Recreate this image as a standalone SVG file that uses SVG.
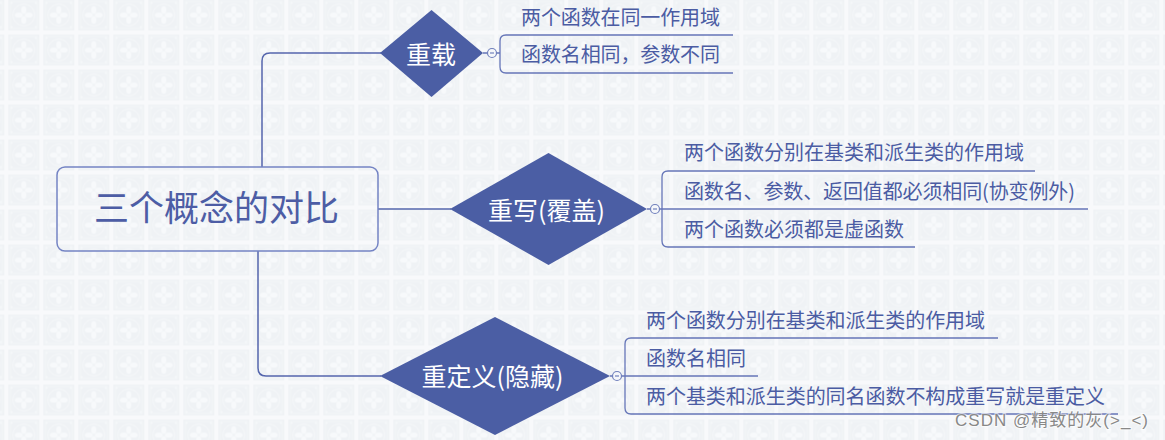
<svg xmlns="http://www.w3.org/2000/svg" width="1165" height="440" viewBox="0 0 1165 440">
  <defs>
    <pattern id="tile" x="8.3" y="-0.5" width="35" height="35" patternUnits="userSpaceOnUse">
      <rect x="0" y="0" width="35" height="35" fill="#f8f9fb"/>
      <rect x="0" y="0" width="31" height="31" fill="#eff2f5"/>
      <rect x="2" y="2" width="27" height="27" fill="none" stroke="#f5f7f9" stroke-width="0.8"/>
      <circle cx="15.5" cy="15.5" r="11" fill="none" stroke="#f6f8fa" stroke-width="1"/>
      <g fill="#f7f9fb">
        <ellipse cx="15.5" cy="10.5" rx="2.6" ry="4"/>
        <ellipse cx="15.5" cy="20.5" rx="2.6" ry="4"/>
        <ellipse cx="10.5" cy="15.5" rx="4" ry="2.6"/>
        <ellipse cx="20.5" cy="15.5" rx="4" ry="2.6"/>
        <circle cx="3.5" cy="3.5" r="1"/>
        <circle cx="27.5" cy="3.5" r="1"/>
        <circle cx="3.5" cy="27.5" r="1"/>
        <circle cx="27.5" cy="27.5" r="1"/>
      </g>
    </pattern>
    <style>
      .conn { fill: none; stroke: #5566ad; stroke-width: 1.5; }
      .br { fill: none; stroke: #6676b8; stroke-width: 1.3; }
      .dia { fill: #4b5ea4; }
      .dt { font-family: "Noto Sans CJK SC", "Noto Sans", sans-serif; font-size: 25px; fill: #ffffff; text-anchor: middle; }
      .ct { font-family: "Noto Sans CJK SC", "Noto Sans", sans-serif; font-size: 20px; fill: #4b5ca3; }
      .rt { font-family: "Noto Sans CJK SC", "Noto Sans", sans-serif; font-size: 35px; fill: #4d5da5; }
      .tog { fill: #f5f7fa; stroke: #7080bc; stroke-width: 1.2; }
      .togm { stroke: #7080bc; stroke-width: 1.2; }
    </style>
  </defs>
  <rect x="0" y="0" width="1165" height="440" fill="url(#tile)"/>

  <g id="connectors">
    <path class="conn" d="M 262 167 V 61 Q 262 53 270 53 H 381"/>
    <path class="conn" d="M 378 209 H 451"/>
    <path class="conn" d="M 258 251 V 368 Q 258 376 266 376 H 381"/>
    <path class="br" d="M 483 53 H 487.5 M 496.5 53 H 500"/>
    <path class="br" d="M 733 35 H 506 Q 500 35 500 41 V 67 Q 500 73 506 73 H 733"/>
    <path class="br" d="M 647 209 H 650.5 M 659.5 209 H 1088"/>
    <path class="br" d="M 1035 171 H 668 Q 662 171 662 177 V 241 Q 662 247 668 247 H 915"/>
    <path class="br" d="M 610 376 H 612.5 M 621.5 376 H 758"/>
    <path class="br" d="M 998 338 H 631 Q 625 338 625 344 V 408 Q 625 414 631 414 H 1118"/>
  </g>

  <g id="root">
    <rect x="57" y="167" width="321" height="84" rx="8" fill="none" stroke="#7484c4" stroke-width="1.5"/>
    <text class="rt" x="94" y="221" textLength="245" lengthAdjust="spacingAndGlyphs">三个概念的对比</text>
  </g>

  <g id="overload">
    <polygon class="dia" points="380,53 431.5,10 483,53 431.5,97"/>
    <text class="dt" x="431" y="64">重载</text>
    <circle class="tog" cx="492" cy="53" r="4.5"/>
    <line class="togm" x1="490" y1="53" x2="494" y2="53"/>
  </g>
  <g id="overload-items">
    <text class="ct" x="521" y="24.5" textLength="199">两个函数在同一作用域</text>
    <text class="ct" x="521" y="62" textLength="199">函数名相同，参数不同</text>
  </g>

  <g id="override">
    <polygon class="dia" points="450,209 548.5,153 647,209 548.5,265"/>
    <text class="dt" x="546.5" y="220">重写(覆盖)</text>
    <circle class="tog" cx="655" cy="209" r="4.5"/>
    <line class="togm" x1="653" y1="209" x2="657" y2="209"/>
  </g>
  <g id="override-items">
    <text class="ct" x="684" y="160" textLength="340">两个函数分别在基类和派生类的作用域</text>
    <text class="ct" x="684" y="198.5" textLength="391">函数名、参数、返回值都必须相同(协变例外)</text>
    <text class="ct" x="684" y="237" textLength="220">两个函数必须都是虚函数</text>
  </g>

  <g id="redefine">
    <polygon class="dia" points="380,376 495,317 610,376 495,435"/>
    <text class="dt" x="492.5" y="386">重定义(隐藏)</text>
    <circle class="tog" cx="617" cy="376" r="4.5"/>
    <line class="togm" x1="615" y1="376" x2="619" y2="376"/>
  </g>
  <g id="redefine-items">
    <text class="ct" x="646" y="327.5" textLength="339">两个函数分别在基类和派生类的作用域</text>
    <text class="ct" x="646" y="366" textLength="100">函数名相同</text>
    <text class="ct" x="646" y="404" textLength="459">两个基类和派生类的同名函数不构成重写就是重定义</text>
  </g>

  <g id="watermark">
    <text x="955" y="426" font-family="Liberation Sans, Noto Sans CJK SC, sans-serif" font-size="17" fill="#888888" stroke="#ffffff" stroke-width="2" stroke-opacity="0.6" paint-order="stroke" textLength="193">CSDN @精致的灰(&gt;_&lt;)</text>
  </g>
</svg>
